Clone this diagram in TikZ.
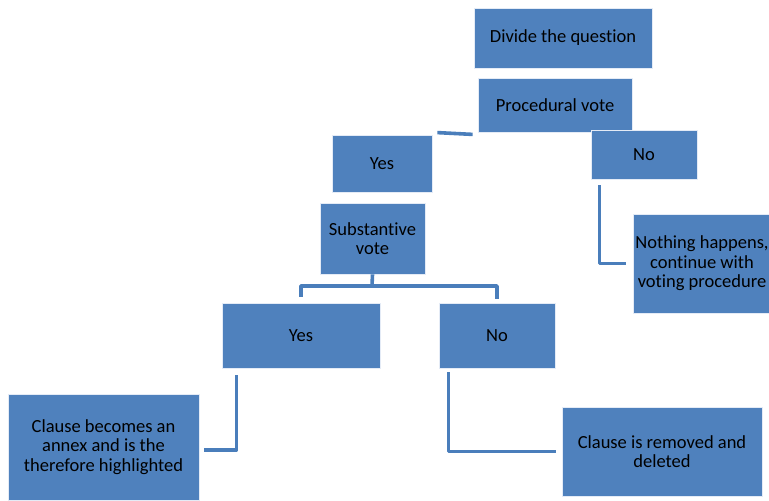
\documentclass[tikz,border=0pt]{standalone}
\usepackage{fontspec}
\setmainfont[Ligatures=NoCommon]{Carlito}
\begin{document}
\begin{tikzpicture}[x=1pt,y=-1pt,
  box/.style={rectangle, fill={rgb,255:red,79;green,129;blue,189},
    draw={rgb,255:red,228;green,235;blue,246}, line width=0.8pt,
    inner sep=0pt, align=center, text=black,
    font=\fontsize{18.5}{19.5}\selectfont},
  conn/.style={draw={rgb,255:red,74;green,126;blue,187}, line width=3.6pt, line join=round}]
\useasboundingbox (0,0) rectangle (769,501);
\fill[white] (0,0) rectangle (769,501);
\node[box, minimum width=178pt, minimum height=60pt] (divide) at (563,38) {Divide the question};
\node[box, minimum width=154pt, minimum height=54pt] (proc) at (555,105) {Procedural vote};
\node[box, minimum width=106pt, minimum height=49pt] (no1) at (644,154.5) {No};
\node[box, minimum width=100pt, minimum height=57pt] (yes1) at (382,163.5) {Yes};
\node[box, minimum width=105pt, minimum height=71pt] (subst) at (372.5,238.5) {Substantive\\vote};
\node[box, minimum width=158pt, minimum height=65pt] (yes2) at (301,335.5) {Yes};
\node[box, minimum width=116pt, minimum height=65pt] (no2) at (497,335.5) {No};
\node[box, minimum width=191pt, minimum height=106pt] (annex) at (103.5,447) {Clause becomes an\\annex and is the\\therefore highlighted};
\node[box, minimum width=200pt, minimum height=89pt] (removed) at (662,451.5) {Clause is removed and\\deleted};
\node[box, minimum width=138pt, minimum height=99pt] (nothing) at (702,263.5) {Nothing happens,\\continue with\\voting procedure};
% connectors
\draw[conn] ([shift={(5pt,2pt)}]yes1.north east) -- ([shift={(-5pt,-2pt)}]proc.south west);
\draw[conn] ([shift={(9pt,-6pt)}]no1.south west) |- ([xshift=-7pt]nothing.west);
\coordinate (j) at (372,286);
\draw[conn] ([yshift=6pt]yes2.north) |- (j) -| ([yshift=4pt]no2.north);
\draw[conn] (subst.south) -- (j);
\draw[conn] ([shift={(15pt,-7pt)}]yes2.south west) |- ([shift={(5pt,-3pt)}]annex.east);
\draw[conn] ([shift={(10pt,-4pt)}]no2.south west) |- ([xshift=-6pt]removed.west);
\end{tikzpicture}
\end{document}
